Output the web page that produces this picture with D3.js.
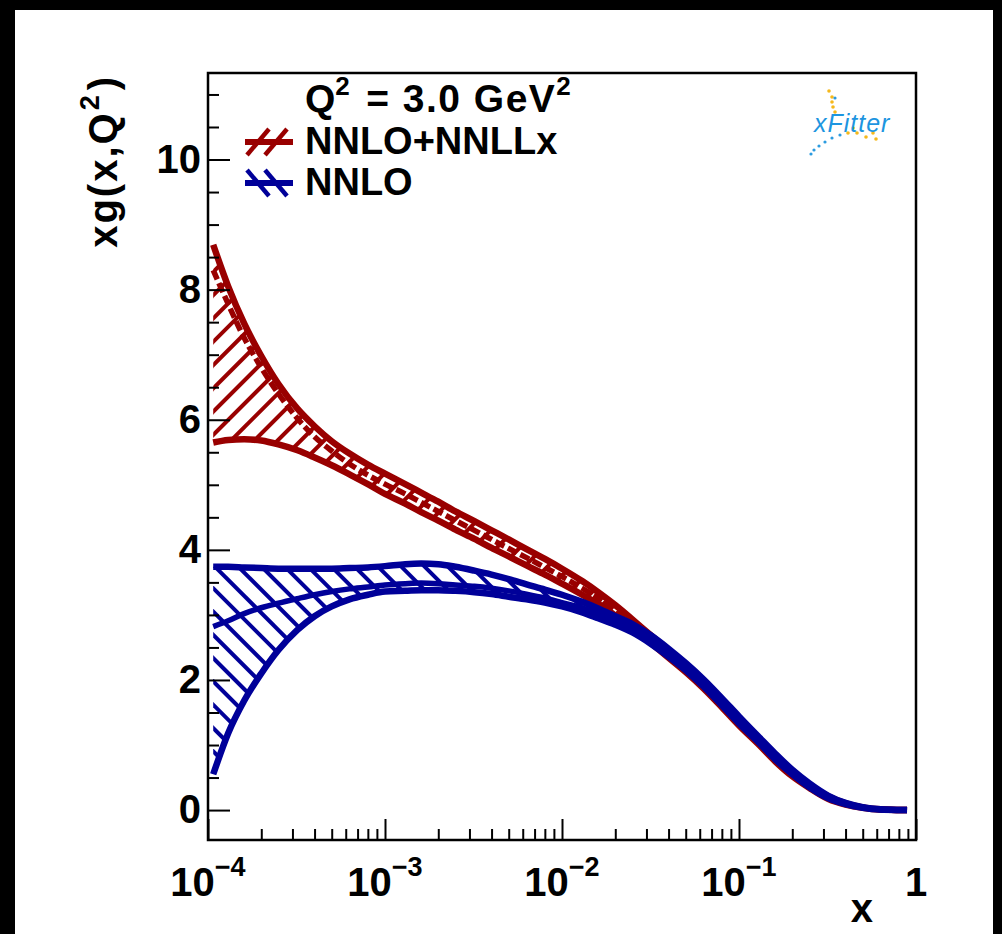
<!DOCTYPE html>
<html><head><meta charset="utf-8">
<script src="https://cdn.jsdelivr.net/npm/d3@7"></script>
<style>
html,body{margin:0;padding:0;background:#000;overflow:hidden}
svg{display:block}
text{font-family:"Liberation Sans",Arial,Helvetica,sans-serif;font-weight:bold}
</style></head><body>
<svg id="chart" width="1002" height="934"></svg>
<script>
// x grid of the gluon PDF at Q^2 = 3 GeV^2
const xGrid = [1.07e-4, 1.3e-4, 1.6e-4, 2e-4, 2.5e-4, 3.2e-4, 4e-4, 5e-4, 6.3e-4, 8e-4,
               1e-3, 1.3e-3, 1.6e-3, 2e-3, 2.5e-3, 3.2e-3, 4e-3, 5e-3, 6.3e-3, 8e-3,
               1e-2, 1.3e-2, 1.6e-2, 2e-2, 2.5e-2, 3.2e-2, 4e-2, 5e-2, 6.3e-2, 8e-2,
               0.1, 0.13, 0.16, 0.2, 0.25, 0.32, 0.4, 0.5, 0.63, 0.8, 0.89];

// NNLO+NNLLx: upper edge, central value, lower edge of xg(x,Q^2)
const nllxUp  = [8.69, 8.05, 7.48, 6.98, 6.55, 6.17, 5.90, 5.67, 5.48, 5.31,
                 5.17, 5.01, 4.88, 4.74, 4.59, 4.44, 4.30, 4.16, 4.01, 3.86,
                 3.71, 3.52, 3.35, 3.15, 2.93, 2.68, 2.46, 2.23, 1.98, 1.69,
                 1.41, 1.10, 0.85, 0.60, 0.39, 0.21, 0.105, 0.042, 0.011, 0.002, 0.0];
const nllxCen = [8.30, 7.78, 7.26, 6.80, 6.40, 6.02, 5.74, 5.52, 5.32, 5.15,
                 5.01, 4.86, 4.73, 4.59, 4.45, 4.30, 4.16, 4.02, 3.88, 3.73,
                 3.59, 3.41, 3.26, 3.07, 2.86, 2.62, 2.40, 2.18, 1.93, 1.64,
                 1.36, 1.05, 0.80, 0.56, 0.37, 0.19, 0.095, 0.038, 0.009, 0.002, 0.0];
const nllxLo  = [5.65, 5.69, 5.70, 5.68, 5.62, 5.53, 5.42, 5.30, 5.16, 5.01,
                 4.86, 4.71, 4.58, 4.45, 4.31, 4.17, 4.03, 3.90, 3.76, 3.62,
                 3.48, 3.31, 3.17, 2.99, 2.79, 2.56, 2.34, 2.12, 1.87, 1.58,
                 1.30, 1.00, 0.75, 0.52, 0.34, 0.17, 0.085, 0.034, 0.007, 0.001, 0.0];

// NNLO: upper edge, central value, lower edge
const nnloUp  = [3.74, 3.74, 3.73, 3.72, 3.71, 3.71, 3.71, 3.71, 3.72, 3.73,
                 3.75, 3.78, 3.79, 3.78, 3.74, 3.68, 3.62, 3.55, 3.47, 3.39,
                 3.31, 3.20, 3.10, 2.98, 2.86, 2.68, 2.48, 2.26, 2.01, 1.72,
                 1.44, 1.12, 0.87, 0.62, 0.41, 0.22, 0.11, 0.045, 0.012, 0.002, 0.0];
const nnloCen = [2.82, 2.91, 3.02, 3.11, 3.18, 3.25, 3.31, 3.36, 3.40, 3.43,
                 3.46, 3.48, 3.49, 3.48, 3.46, 3.44, 3.41, 3.37, 3.32, 3.26,
                 3.19, 3.11, 3.02, 2.91, 2.79, 2.61, 2.42, 2.20, 1.95, 1.66,
                 1.38, 1.07, 0.82, 0.58, 0.38, 0.20, 0.10, 0.040, 0.010, 0.002, 0.0];
const nnloLo  = [0.55, 1.18, 1.68, 2.10, 2.46, 2.77, 2.98, 3.13, 3.24, 3.31,
                 3.36, 3.37, 3.38, 3.38, 3.37, 3.35, 3.32, 3.28, 3.24, 3.19,
                 3.13, 3.04, 2.95, 2.85, 2.73, 2.55, 2.36, 2.15, 1.90, 1.61,
                 1.33, 1.03, 0.78, 0.55, 0.35, 0.18, 0.09, 0.036, 0.008, 0.001, 0.0];

// axis ticks and labels
const xMajorTicks = [1e-4, 1e-3, 1e-2, 1e-1, 1];
const xTickLabels = [["10", "\u22124"], ["10", "\u22123"], ["10", "\u22122"], ["10", "\u22121"], ["1", ""]];
const yMajorTicks = [0, 2, 4, 6, 8, 10];
const yMinorTicks = [0.5, 1, 1.5, 2.5, 3, 3.5, 4.5, 5, 5.5, 6.5, 7, 7.5, 8.5, 9, 9.5, 10.5, 11];

const seriesNames = ["NNLO+NNLLx", "NNLO"];
const seriesColors = ["#990000", "#000099"];

// small dots of the xFitter logo
const logoDotsYellow = [[829,91],[832,97],[832,102],[833,107],[835,112],[848,133],[853,128],[857,133],[866,137],[876,139],[873,133]];
const logoDotsBlue = [[835,98],[840,135],[832,138],[825,142],[819,146],[814,150],[811,154]];

const svg = d3.select("#chart");
const defs = svg.append("defs");

// canvas: black surround, white pad
svg.append("rect").attr("width", 1002).attr("height", 934).attr("fill", "#000");
svg.append("rect").attr("x", 15).attr("y", 10).attr("width", 978).attr("height", 924).attr("fill", "#fff");

const x = d3.scaleLog().domain([1e-4, 1]).range([208, 916]);
const y = d3.scaleLinear().domain([-0.46, 11.33]).range([840, 73]);

defs.append("clipPath").attr("id", "frameClip")
  .append("rect").attr("x", 208).attr("y", 73).attr("width", 708).attr("height", 767);

const plot = svg.append("g").attr("clip-path", "url(#frameClip)");

function drawBand(up, cen, lo, color, dir, phase, id, centralDash) {
  const rows = xGrid.map((xv, i) => ({x: xv, up: up[i], c: cen[i], lo: lo[i]}));
  const area = d3.area().x(d => x(d.x)).y0(d => y(d.lo)).y1(d => y(d.up)).curve(d3.curveMonotoneX);
  defs.append("clipPath").attr("id", id).append("path").attr("d", area(rows));

  // hatch pattern clipped to the band
  const step = 23.3;
  const hatch = plot.append("g").attr("clip-path", `url(#${id})`);
  const xa = 190, xb = 940;
  if (dir > 0) {
    // "/" lines: y = c - x
    for (let c = phase - 60 * step; c < 840 + xb + step; c += step) {
      if (c < 73 + xa - step) continue;
      hatch.append("line").attr("x1", xa).attr("y1", c - xa).attr("x2", xb).attr("y2", c - xb)
        .attr("stroke", color).attr("stroke-width", 4);
    }
  } else {
    // "\" lines: y = x + c
    for (let c = phase - 60 * step; c < 840 - xa + step; c += step) {
      if (c < 73 - xb - step) continue;
      hatch.append("line").attr("x1", xa).attr("y1", xa + c).attr("x2", xb).attr("y2", xb + c)
        .attr("stroke", color).attr("stroke-width", 4);
    }
  }

  const line = key => d3.line().x(d => x(d.x)).y(d => y(d[key])).curve(d3.curveMonotoneX)(rows);
  ["up", "lo"].forEach(k => {
    plot.append("path").attr("d", line(k)).attr("fill", "none")
      .attr("stroke", color).attr("stroke-width", 6.5).attr("stroke-linejoin", "round");
  });
  plot.append("path").attr("d", line("c")).attr("fill", "none")
    .attr("stroke", color).attr("stroke-width", 5.5).attr("stroke-linejoin", "round")
    .attr("stroke-dasharray", centralDash);
}

drawBand(nllxUp, nllxCen, nllxLo, seriesColors[0], +1, 531.7, "bandNllx", "10 4");
drawBand(nnloUp, nnloCen, nnloLo, seriesColors[1], -1, 375, "bandNnlo", null);

// axes (ticks point inwards)
const xMinorTicks = [1e-4, 1e-3, 1e-2, 1e-1].flatMap(d => [2,3,4,5,6,7,8,9].map(m => m * d));
function styleAxis(g) {
  g.select(".domain").remove();
  g.selectAll(".tick line").attr("stroke", "#000").attr("stroke-width", 2);
}
svg.append("g").attr("transform", "translate(0,840)")
  .call(d3.axisBottom(x).tickValues(xMajorTicks).tickSize(-21).tickFormat(() => ""))
  .call(styleAxis);
svg.append("g").attr("transform", "translate(0,840)")
  .call(d3.axisBottom(x).tickValues(xMinorTicks).tickSize(-11).tickFormat(() => ""))
  .call(styleAxis);
svg.append("g").attr("transform", "translate(208,0)")
  .call(d3.axisLeft(y).tickValues(yMajorTicks).tickSize(-22).tickPadding(7).tickFormat(d3.format("d")))
  .call(styleAxis)
  .call(g => g.selectAll(".tick text").attr("font-size", 40).attr("fill", "#000")
    .style("font-family", '"Liberation Sans",Arial,sans-serif').style("font-weight", "bold"));
svg.append("g").attr("transform", "translate(208,0)")
  .call(d3.axisLeft(y).tickValues(yMinorTicks).tickSize(-11).tickFormat(() => ""))
  .call(styleAxis);

// x tick labels with exponents
xMajorTicks.forEach((v, i) => {
  const t = svg.append("text").attr("x", x(v)).attr("y", 896).attr("text-anchor", "middle")
    .attr("font-size", 40).attr("fill", "#000");
  t.append("tspan").text(xTickLabels[i][0]);
  if (xTickLabels[i][1]) t.append("tspan").attr("font-size", 27).attr("dy", -20).text(xTickLabels[i][1]);
});

// frame
svg.append("rect").attr("x", 208).attr("y", 73).attr("width", 708).attr("height", 767)
  .attr("fill", "none").attr("stroke", "#000").attr("stroke-width", 2.5);

// axis titles
svg.append("text").attr("x", 873).attr("y", 922).attr("text-anchor", "end")
  .attr("font-size", 40).attr("fill", "#000").text("x");
const yt = svg.append("text").attr("transform", "translate(117,75) rotate(-90)")
  .attr("text-anchor", "end").attr("font-size", 40).attr("fill", "#000")
  .style("letter-spacing", "2px");
yt.append("tspan").text("xg(x,Q");
yt.append("tspan").attr("font-size", 27).attr("dx", 1).attr("dy", -18).text("2");
yt.append("tspan").attr("dx", 3).attr("dy", 18).text(")");

// legend
const q = svg.append("text").attr("x", 305).attr("y", 112).attr("font-size", 39).attr("fill", "#000");
q.append("tspan").text("Q");
q.append("tspan").attr("font-size", 26).attr("dy", -17).text("2");
q.append("tspan").attr("dy", 17).attr("dx", 4).style("letter-spacing", "1.5px").text(" = 3.0 GeV");
q.append("tspan").attr("font-size", 26).attr("dy", -17).text("2");

const legendRows = [154, 195];
seriesNames.forEach((name, i) => {
  const cy = legendRows[i] - 12;
  const lg = svg.append("g");
  lg.append("line").attr("x1", 245).attr("x2", 293).attr("y1", cy).attr("y2", cy)
    .attr("stroke", seriesColors[i]).attr("stroke-width", 6);
  [0, 1].forEach(k => {
    const x0 = 258 + k * 18;
    if (i === 0) {
      lg.append("line").attr("x1", x0 - 11).attr("y1", cy + 13).attr("x2", x0 + 11).attr("y2", cy - 13)
        .attr("stroke", seriesColors[i]).attr("stroke-width", 4.5);
    } else {
      lg.append("line").attr("x1", x0 - 11).attr("y1", cy - 13).attr("x2", x0 + 11).attr("y2", cy + 13)
        .attr("stroke", seriesColors[i]).attr("stroke-width", 4.5);
    }
  });
  svg.append("text").attr("x", 305).attr("y", legendRows[i]).attr("font-size", 38)
    .attr("fill", "#000").text(name);
});

// xFitter logo
const logo = svg.append("g");
logoDotsYellow.forEach(p => logo.append("circle").attr("cx", p[0]).attr("cy", p[1]).attr("r", 1.8).attr("fill", "#f5b81c"));
logoDotsBlue.forEach(p => logo.append("circle").attr("cx", p[0]).attr("cy", p[1]).attr("r", 1.6).attr("fill", "#2b9be0"));
logo.append("text").attr("x", 814).attr("y", 132).attr("font-size", 25).attr("font-style", "italic")
  .style("font-weight", "normal").style("letter-spacing", "1px").attr("fill", "#1d95e0").text("xFitter");
</script></body></html>
